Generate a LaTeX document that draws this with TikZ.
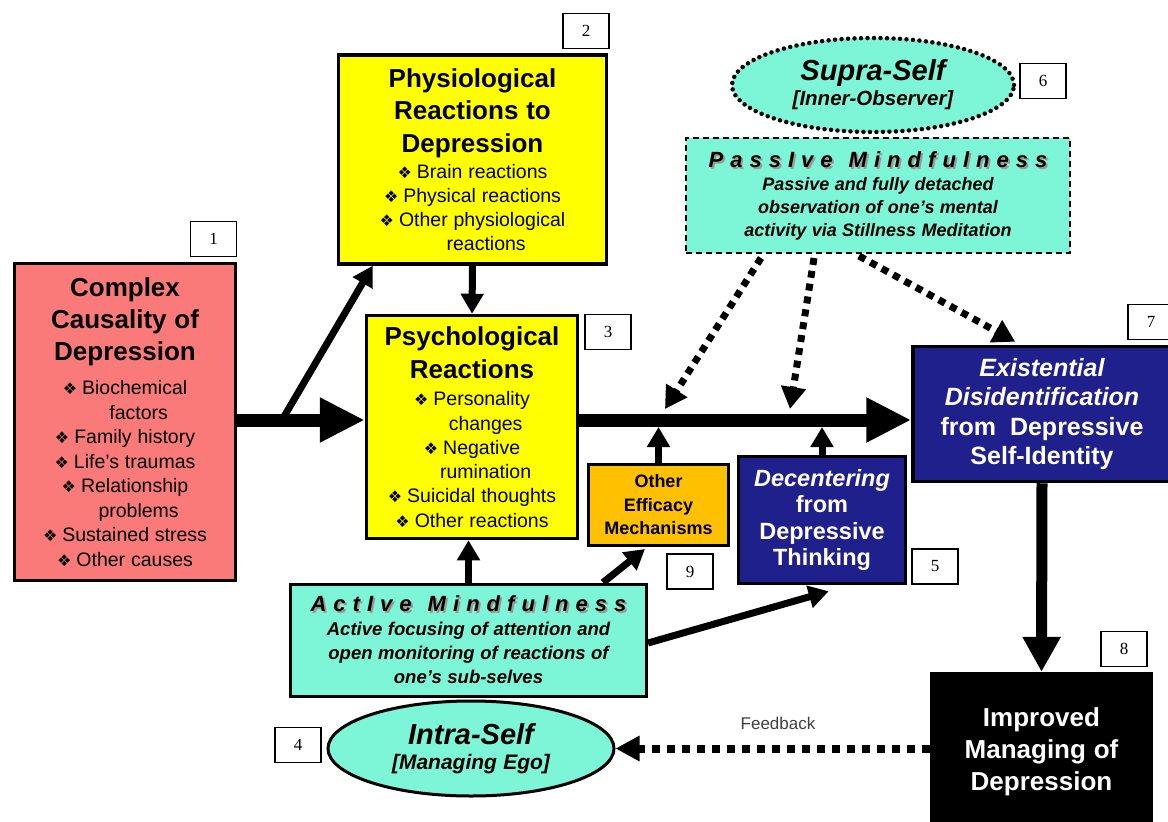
\documentclass[tikz,border=0pt]{standalone}
\usepackage{fontspec}
\setmainfont{Liberation Sans}
\newfontfamily\numfont{Liberation Serif}
\newfontfamily\dejavu{DejaVu Sans}
\newfontfamily\spaced[LetterSpace=32]{Liberation Sans}
\usetikzlibrary{arrows.meta,shapes.geometric,calc}
\definecolor{salmon1}{RGB}{250,122,122}
\definecolor{yel}{RGB}{255,255,0}
\definecolor{orng}{RGB}{255,192,0}
\definecolor{navy1}{RGB}{32,32,140}
\definecolor{aqua1}{RGB}{125,245,215}
\definecolor{fbgray}{RGB}{64,64,64}
\newcommand\fsz[2]{\fontsize{#1}{#2}\selectfont\spaceskip=0.3em\relax\xspaceskip=0.3em\relax}
\newcommand\bul{{\dejavu\fontsize{16}{16}\selectfont ❖}\hspace{5pt}}
\newcommand\shad[1]{\makebox[0pt][l]{\hspace{2pt}\raisebox{-2pt}{\color{black!40}#1}}#1}
\begin{document}
\begin{tikzpicture}[x=1pt,y=-1pt,
 box/.style={rectangle, draw=black, line width=3.5pt, inner sep=0pt, align=center},
 num/.style={rectangle, draw=black, line width=1.3pt, fill=white, minimum width=46pt, minimum height=35pt, inner sep=0pt, font=\numfont\fsz{17}{20}},
 big/.style={-{Triangle[length=45pt,width=42pt]}, line width=13pt},
 mid/.style={-{Triangle[length=20pt,width=22pt]}, line width=7pt},
 dots/.style={-{Triangle[length=22pt,width=24pt]}, line width=7pt, dash pattern=on 7pt off 6pt},
]
\fill[white] (0,0) rectangle (1168,822);
\useasboundingbox (0,0) rectangle (1168,822);

% main boxes
\node[box, fill=salmon1, minimum width=221pt, minimum height=317pt, text width=215pt] (cause) at (125,422) {%
{\fsz{26}{32}\bfseries Complex\\Causality of\\Depression\par}\vspace{10pt}%
{\fsz{19.5}{24.5}\bul Biochemical\\\hspace*{1.4em}factors\\\bul Family history\\\bul Life’s traumas\\\bul Relationship\\\hspace*{1.4em}problems\\\bul Sustained stress\\\bul Other causes\par}};

\node[box, fill=yel, minimum width=268pt, minimum height=209pt, text width=260pt] (physio) at (472.5,159.5) {%
{\fsz{26}{32.5}\bfseries Physiological\\Reactions to\\Depression\par}\vspace{2pt}%
{\fsz{19.5}{24}\bul Brain reactions\\\bul Physical reactions\\\bul Other physiological\\\hspace*{1.4em}reactions\par}};

\node[box, fill=yel, minimum width=211pt, minimum height=223pt, text width=205pt] (psych) at (472,427) {%
{\fsz{26}{33}\bfseries Psychological\\Reactions\par}\vspace{3pt}%
{\fsz{19.5}{24.3}\bul Personality\\\hspace*{1.4em}changes\\\bul Negative\\\hspace*{1.4em}rumination\\\bul Suicidal thoughts\\\bul Other reactions\par}};

\node[box, fill=orng, line width=3pt, minimum width=140pt, minimum height=81pt, text width=136pt] (other) at (658.5,505) {%
{\fsz{18}{23.5}\bfseries Other\\Efficacy\\Mechanisms\par}};

\node[box, fill=navy1, minimum width=167pt, minimum height=127pt, text width=160pt, text=white] (decent) at (822,520) {%
{\fsz{23.5}{26.5}\bfseries {\itshape Decentering}\\from\\Depressive\\Thinking\par}};

\node[box, fill=navy1, minimum width=258pt, minimum height=135pt, text width=250pt, text=white] (exist) at (1042,414) {%
{\fsz{25}{29.5}\bfseries {\itshape Existential}\\{\itshape Disidentification}\\from\hspace{14pt}Depressive\\Self-Identity\par}};

\node[rectangle, fill=black, inner sep=0pt, minimum width=223pt, minimum height=160pt, text width=215pt, align=center, text=white] (improved) at (1041.5,752) {%
{\fsz{26}{32}\bfseries Improved\\Managing of\\Depression\par}};

\node[box, fill=aqua1, line width=3pt, minimum width=356pt, minimum height=112pt, text width=350pt] (active) at (468.5,640) {%
{\fsz{22}{26}\spaced\bfseries\itshape \shad{ActIve\hspace{16pt}Mindfulness}\par}%
{\fsz{18.5}{24}\bfseries\itshape Active focusing of attention and\\open monitoring of reactions of\\one’s sub-selves\par}};

\node[rectangle, draw=black, line width=2pt, dash pattern=on 6pt off 4pt, fill=aqua1, inner sep=0pt, align=center, minimum width=384pt, minimum height=115pt, text width=378pt] (passive) at (878,195.5) {%
{\fsz{22}{24}\spaced\bfseries\itshape \shad{PassIve\hspace{16pt}Mindfulness}\par}%
{\fsz{18}{23}\bfseries\itshape Passive and fully detached\\observation of one’s mental\\activity via Stillness Meditation\par}\vspace{14pt}};

\node[ellipse, draw=black, line width=4.5pt, dash pattern=on 0pt off 6.5pt, line cap=round, fill=aqua1, inner sep=0pt, minimum width=282pt, minimum height=94pt, text width=175pt, align=center] (supra) at (873,85) {%
{\fsz{29}{36}\bfseries\itshape Supra-Self\par}%
{\fsz{20.5}{25}\bfseries\itshape [Inner-Observer]\par}};

\node[ellipse, draw=black, line width=3pt, fill=aqua1, inner sep=0pt, minimum width=286pt, minimum height=95pt, text width=175pt, align=center] (intra) at (471,748.5) {%
{\fsz{29}{34}\bfseries\itshape Intra-Self\par}%
{\fsz{21}{25}\bfseries\itshape [Managing Ego]\par}};

% number labels
\node[num] (n1) at (213.5,239) {1};
\node[num] (n2) at (586,31) {2};
\node[num] (n3) at (608,332) {3};
\node[num] (n4) at (298,745) {4};
\node[num] (n5) at (935,566.5) {5};
\node[num] (n6) at (1043,81) {6};
\node[num] (n7) at (1151,322) {7};
\node[num] (n8) at (1124,649) {8};
\node[num] (n9) at (690,571.5) {9};

\node[font=\fsz{17}{20}, text=fbgray] (fb) at (778,723) {Feedback};

% helper coordinates
\coordinate (mainy) at (0,420);
\coordinate (lineb) at (0,427);
\coordinate (br) at (282,420);
\coordinate (m1) at (665,409);
\coordinate (m2) at (790,409);

% connectors
\draw[big] (cause.east |- mainy) -- (psych.west |- mainy);
\draw[mid] (br) -- ($(physio.south west)+(36,0)$);
\draw[mid] (physio.south) -- (psych.north);
\draw[big] (psych.east |- mainy) -- (exist.west |- mainy);
\draw[mid] (other.north) -- (other.north |- lineb);
\draw[mid] (decent.north) -- (decent.north |- lineb);
\draw[mid] (active.north) -- (active.north |- psych.south);
\draw[mid] ($(active.north east)+(-45,0)$) -- ($(other.south west)+(58,2)$);
\draw[mid] ($(active.east)+(0,3)$) -- ($(decent.south west)+(92,6)$);
\draw[-{Triangle[length=35pt,width=36pt]}, line width=11pt] (exist.south) -- (improved.north);
\draw[dots] ($(passive.south west)+(76,4)$) -- (m1);
\draw[dots] ($(passive.south west)+(129,4)$) -- (m2);
\draw[dots] ($(passive.south west)+(174,2)$) -- ($(exist.north west)+(104,-3)$);
\draw[-{Triangle[length=24pt,width=24pt]}, line width=8pt, dash pattern=on 8pt off 7pt] (improved.west |- intra.east) -- (intra.east);
\end{tikzpicture}
\end{document}
